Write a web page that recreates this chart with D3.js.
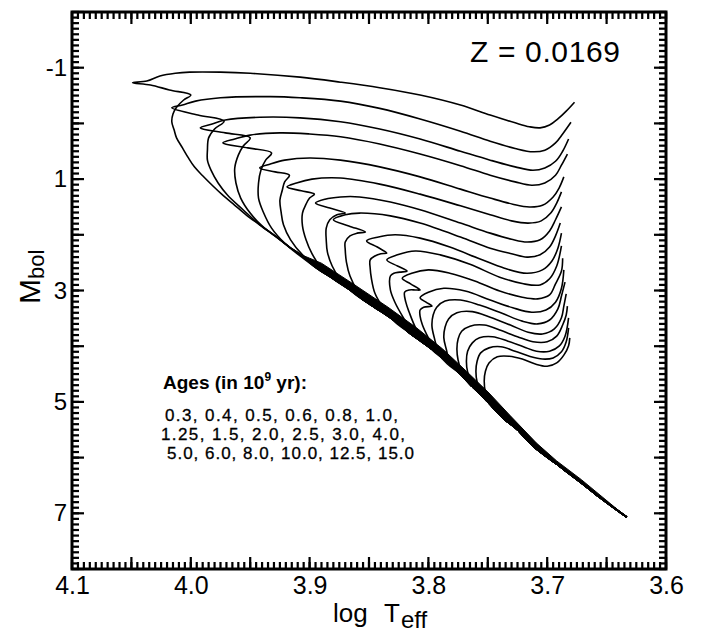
<!DOCTYPE html>
<html><head><meta charset="utf-8">
<script src="https://cdn.jsdelivr.net/npm/d3@7"></script>
<style>body{margin:0;background:#fff} svg{display:block}</style>
</head><body>
<svg id="c" width="701" height="635" xmlns="http://www.w3.org/2000/svg"></svg>
<script>
// ---------- data ----------
const xTickValues = [4.1, 4.0, 3.9, 3.8, 3.7, 3.6];
const xTickLabels = ["4.1", "4.0", "3.9", "3.8", "3.7", "3.6"];
const yTickValues = [-1, 1, 3, 5, 7];
const yTickLabels = ["-1", "1", "3", "5", "7"];
const ages = [0.3, 0.4, 0.5, 0.6, 0.8, 1.0, 1.25, 1.5, 2.0, 2.5, 3.0, 4.0, 5.0, 6.0, 8.0, 10.0, 12.5, 15.0];
const metallicityLabel = "Z = 0.0169";

// lower main sequence shared by all isochrones [log Teff, Mbol] (blue edge of the bundle)
const zams = [[3.633,7.07],[3.656,6.71],[3.672,6.44],[3.693,6.10],[3.712,5.79],[3.725,5.50],[3.736,5.31],[3.746,5.09],[3.754,4.91],[3.765,4.68],[3.773,4.50],[3.783,4.30],[3.793,4.12],[3.805,3.93],[3.816,3.76],[3.826,3.58],[3.838,3.40],[3.852,3.21],[3.866,2.99],[3.880,2.79],[3.894,2.60],[3.908,2.35],[3.917,2.22],[3.929,2.02],[3.942,1.82],[3.953,1.65],[3.963,1.47],[3.974,1.27],[3.982,1.11],[3.990,0.94],[3.997,0.78],[4.002,0.62],[4.007,0.44],[4.012,0.26],[4.014,0.12],[4.016,-0.03]];
// red edge of the overlapping main-sequence bundle
const msRedEdge = [[3.633,7.07],[3.671,6.40],[3.692,6.06],[3.709,5.74],[3.731,5.25],[3.749,4.84],[3.768,4.45],[3.788,4.05],[3.810,3.67],[3.834,3.30],[3.862,2.90],[3.890,2.51],[3.900,2.42]];

// upper parts of each isochrone (after leaving the lower main sequence)
const iso0_3 = [[4.015,-0.17],[4.012,-0.29],[4.006,-0.42],[4.000,-0.51],[4.018,-0.60],[4.034,-0.69],[4.049,-0.73],[4.037,-0.76],[4.026,-0.85],[4.013,-0.90],[4.001,-0.92],[3.975,-0.92],[3.950,-0.90],[3.908,-0.83],[3.874,-0.74],[3.841,-0.64],[3.807,-0.51],[3.773,-0.33],[3.748,-0.15],[3.727,-0.01],[3.715,0.06],[3.706,0.08],[3.698,0.03],[3.691,-0.08],[3.684,-0.22],[3.677,-0.38]];
const iso0_4 = [[3.956,1.55],[3.969,1.29],[3.977,1.07],[3.983,0.84],[3.986,0.66],[3.986,0.48],[3.985,0.26],[3.980,0.10],[3.972,-0.04],[3.994,-0.15],[4.016,-0.28],[4.007,-0.33],[3.996,-0.40],[3.975,-0.46],[3.933,-0.48],[3.908,-0.46],[3.874,-0.40],[3.841,-0.27],[3.807,-0.08],[3.773,0.14],[3.748,0.32],[3.727,0.45],[3.712,0.51],[3.702,0.48],[3.693,0.35],[3.687,0.19],[3.680,-0.02]];
const iso0_5 = [[3.925,2.09],[3.940,1.84],[3.950,1.61],[3.958,1.34],[3.962,1.07],[3.963,0.80],[3.960,0.57],[3.956,0.41],[3.950,0.26],[3.971,0.17],[3.992,0.08],[3.982,0.01],[3.971,-0.06],[3.942,-0.11],[3.908,-0.10],[3.874,-0.03],[3.841,0.10],[3.807,0.28],[3.773,0.50],[3.748,0.66],[3.727,0.78],[3.712,0.84],[3.702,0.80],[3.693,0.68],[3.687,0.50],[3.682,0.28]];
const iso0_6 = [[3.908,2.38],[3.921,2.15],[3.932,1.88],[3.939,1.59],[3.943,1.34],[3.943,1.07],[3.941,0.84],[3.937,0.66],[3.932,0.53],[3.952,0.44],[3.973,0.35],[3.963,0.28],[3.950,0.21],[3.925,0.17],[3.900,0.19],[3.874,0.24],[3.841,0.37],[3.807,0.55],[3.773,0.76],[3.748,0.93],[3.727,1.05],[3.713,1.11],[3.702,1.07],[3.693,0.93],[3.688,0.75],[3.683,0.55]];
const iso0_8 = [[3.893,2.60],[3.906,2.36],[3.916,2.09],[3.922,1.82],[3.924,1.59],[3.925,1.38],[3.923,1.20],[3.921,1.05],[3.917,0.93],[3.929,0.87],[3.942,0.80],[3.933,0.73],[3.921,0.66],[3.900,0.62],[3.874,0.66],[3.841,0.78],[3.807,0.96],[3.773,1.18],[3.748,1.34],[3.729,1.45],[3.715,1.50],[3.704,1.47],[3.695,1.32],[3.690,1.16],[3.686,0.96]];
const iso1_0 = [[3.879,2.81],[3.890,2.60],[3.898,2.34],[3.903,2.09],[3.906,1.84],[3.906,1.61],[3.903,1.45],[3.900,1.34],[3.896,1.27],[3.907,1.21],[3.919,1.14],[3.911,1.07],[3.898,1.00],[3.874,0.98],[3.841,1.09],[3.807,1.27],[3.773,1.48],[3.748,1.64],[3.730,1.75],[3.716,1.79],[3.705,1.75],[3.697,1.61],[3.692,1.43],[3.688,1.23]];
const iso1_25 = [[3.864,3.03],[3.874,2.81],[3.881,2.56],[3.885,2.31],[3.886,2.09],[3.886,1.88],[3.883,1.73],[3.877,1.64],[3.870,1.61],[3.883,1.52],[3.895,1.43],[3.887,1.36],[3.874,1.32],[3.858,1.32],[3.832,1.41],[3.807,1.55],[3.773,1.79],[3.748,1.97],[3.730,2.08],[3.717,2.13],[3.706,2.09],[3.698,1.93],[3.693,1.73],[3.688,1.50]];
const iso1_5 = [[3.851,3.22],[3.860,2.99],[3.866,2.74],[3.869,2.49],[3.870,2.27],[3.870,2.13],[3.866,2.02],[3.860,1.97],[3.853,1.95],[3.867,1.84],[3.880,1.73],[3.870,1.64],[3.858,1.61],[3.832,1.66],[3.807,1.79],[3.773,2.04],[3.748,2.24],[3.730,2.34],[3.717,2.40],[3.706,2.36],[3.698,2.22],[3.693,2.02],[3.689,1.79]];
const iso2_0 = [[3.828,3.57],[3.838,3.31],[3.845,3.05],[3.848,2.78],[3.849,2.60],[3.849,2.45],[3.845,2.38],[3.840,2.34],[3.835,2.33],[3.843,2.22],[3.852,2.11],[3.842,2.04],[3.828,2.00],[3.807,2.06],[3.782,2.22],[3.757,2.43],[3.736,2.60],[3.717,2.69],[3.704,2.63],[3.696,2.47],[3.691,2.24],[3.688,1.97]];
const iso2_5 = [[3.803,3.94],[3.813,3.75],[3.821,3.49],[3.828,3.22],[3.832,2.99],[3.832,2.74],[3.829,2.69],[3.824,2.67],[3.818,2.65],[3.826,2.56],[3.835,2.45],[3.826,2.36],[3.811,2.29],[3.790,2.36],[3.765,2.53],[3.740,2.76],[3.720,2.88],[3.706,2.90],[3.698,2.79],[3.692,2.56],[3.688,2.20]];
const iso3_0 = [[3.794,4.12],[3.804,3.91],[3.811,3.66],[3.816,3.40],[3.819,3.21],[3.820,3.03],[3.816,2.99],[3.811,2.99],[3.807,2.99],[3.815,2.88],[3.822,2.78],[3.814,2.69],[3.800,2.63],[3.782,2.69],[3.761,2.83],[3.740,3.01],[3.721,3.12],[3.708,3.15],[3.698,3.08],[3.693,2.88],[3.688,2.65],[3.687,2.42]];
const iso4_0 = [[3.784,4.32],[3.793,4.10],[3.800,3.85],[3.805,3.62],[3.807,3.46],[3.807,3.35],[3.804,3.30],[3.797,3.28],[3.802,3.21],[3.807,3.13],[3.800,3.03],[3.787,2.96],[3.769,3.01],[3.748,3.17],[3.729,3.31],[3.713,3.39],[3.701,3.35],[3.693,3.21],[3.688,2.96],[3.686,2.63]];
const iso5_0 = [[3.792,4.07],[3.795,3.85],[3.797,3.64],[3.796,3.44],[3.793,3.30],[3.786,3.19],[3.773,3.17],[3.757,3.26],[3.738,3.41],[3.721,3.55],[3.708,3.60],[3.698,3.53],[3.691,3.33],[3.688,3.10],[3.685,2.85]];
const iso6_0 = [[3.782,4.27],[3.785,4.05],[3.787,3.85],[3.786,3.66],[3.783,3.51],[3.776,3.40],[3.763,3.38],[3.748,3.48],[3.731,3.62],[3.716,3.75],[3.704,3.78],[3.694,3.69],[3.688,3.49],[3.686,3.28],[3.684,3.06]];
const iso8_0 = [[3.772,4.46],[3.775,4.25],[3.776,4.05],[3.775,3.87],[3.772,3.73],[3.765,3.64],[3.753,3.62],[3.740,3.71],[3.725,3.83],[3.712,3.92],[3.700,3.92],[3.692,3.82],[3.687,3.62],[3.684,3.44],[3.683,3.28]];
const iso10_0 = [[3.763,4.68],[3.767,4.46],[3.768,4.27],[3.767,4.09],[3.763,3.94],[3.757,3.85],[3.746,3.83],[3.733,3.91],[3.720,4.01],[3.709,4.09],[3.698,4.09],[3.690,4.00],[3.685,3.82],[3.682,3.49]];
const iso12_5 = [[3.755,4.86],[3.759,4.64],[3.760,4.45],[3.759,4.27],[3.756,4.12],[3.749,4.03],[3.739,4.01],[3.727,4.09],[3.715,4.18],[3.704,4.23],[3.695,4.21],[3.688,4.10],[3.684,3.92],[3.682,3.67]];
const iso15_0 = [[3.747,5.04],[3.752,4.82],[3.753,4.62],[3.752,4.45],[3.749,4.30],[3.742,4.19],[3.732,4.18],[3.721,4.23],[3.710,4.32],[3.700,4.36],[3.692,4.30],[3.686,4.16],[3.682,3.99],[3.681,3.85]];

const isochrones = [iso0_3, iso0_4, iso0_5, iso0_6, iso0_8, iso1_0, iso1_25, iso1_5, iso2_0, iso2_5, iso3_0, iso4_0, iso5_0, iso6_0, iso8_0, iso10_0, iso12_5, iso15_0];

// ---------- drawing ----------
const svg = d3.select("#c");
const FONT = "'Liberation Sans', Arial, Helvetica, sans-serif";
const L = 72, R = 666, TOP = 12, BOT = 569;
const x = d3.scaleLinear().domain([4.1, 3.6]).range([L, R]);
const y = d3.scaleLinear().domain([-2, 8]).range([TOP, BOT]);

svg.append("rect").attr("width", 701).attr("height", 635).attr("fill", "#fff");

// tick labels via axes
const gx = svg.append("g").attr("transform", `translate(0,${BOT})`)
  .call(d3.axisBottom(x).tickValues(xTickValues).tickSize(0).tickPadding(7)
    .tickFormat((d, i) => xTickLabels[i]));
gx.select(".domain").remove();
gx.selectAll("text").attr("font-family", FONT).attr("font-size", 25).attr("fill", "#000");

const gy = svg.append("g").attr("transform", `translate(${L},0)`)
  .call(d3.axisLeft(y).tickValues(yTickValues).tickSize(0).tickPadding(5)
    .tickFormat((d, i) => yTickLabels[i]));
gy.select(".domain").remove();
gy.selectAll("text").attr("font-family", FONT).attr("font-size", 24).attr("fill", "#000");

// main-sequence bundle (overlapping lower parts of all isochrones)
const lin = d3.line().x(d => x(d[0])).y(d => y(d[1]));
const bandPts = zams.filter(p => p[1] >= 2.35).concat(msRedEdge.slice().reverse());
svg.append("path").attr("d", lin(bandPts) + "Z").attr("fill", "#000").attr("stroke", "#000").attr("stroke-width", 1);

// isochrones
const line = d3.line().x(d => x(d[0])).y(d => y(d[1])).curve(d3.curveCatmullRom.alpha(0.5));
const plot = svg.append("g");
isochrones.forEach(own => {
  const m0 = own[0][1];
  const pts = zams.filter(p => p[1] > m0 + 0.12).concat(own);
  plot.append("path").attr("d", line(pts)).attr("fill", "none")
    .attr("stroke", "#000").attr("stroke-width", 1.6).attr("stroke-linejoin", "round");
});

// frame
svg.append("rect").attr("x", L).attr("y", TOP).attr("width", R - L).attr("height", BOT - TOP)
  .attr("fill", "none").attr("stroke", "#000").attr("stroke-width", 3);

// tick marks (inward on all four sides) as small filled bars
const xMinor = d3.range(0, 101).map(i => 3.6 + i * 0.005);
const xMid = d3.range(0, 11).map(i => 3.6 + i * 0.05);
const yMinor = d3.range(0, 101).map(i => -2 + i * 0.1);
const yMid = d3.range(-2, 9);
const tickG = svg.append("g").attr("fill", "#000");
const TW = 2.2;
function xBars(vals, len) {
  tickG.selectAll(null).data(vals).join("rect")
    .attr("x", d => x(d) - TW / 2).attr("y", BOT - len).attr("width", TW).attr("height", len);
  tickG.selectAll(null).data(vals).join("rect")
    .attr("x", d => x(d) - TW / 2).attr("y", TOP).attr("width", TW).attr("height", len);
}
function yBars(vals, len) {
  tickG.selectAll(null).data(vals).join("rect")
    .attr("x", L).attr("y", d => y(d) - TW / 2).attr("width", len).attr("height", TW);
  tickG.selectAll(null).data(vals).join("rect")
    .attr("x", R - len).attr("y", d => y(d) - TW / 2).attr("width", len).attr("height", TW);
}
xBars(xMinor, 7); xBars(xMid, 12);
yBars(yMinor, 7); yBars(yMid, 12);

// Z label
svg.append("text").attr("x", 470).attr("y", 62).attr("font-family", FONT)
  .attr("font-size", 30).attr("fill", "#000").attr("textLength", 150)
  .attr("lengthAdjust", "spacing").text(metallicityLabel);

// Ages text
const fmt = v => (Number.isInteger(v * 10) ? v.toFixed(1) : String(v));
const hdr = svg.append("text").attr("x", 163).attr("y", 389).attr("font-family", FONT)
  .attr("font-size", 19).attr("font-weight", "bold").attr("fill", "#000");
hdr.append("tspan").text("Ages (in 10");
hdr.append("tspan").attr("dy", -8).attr("font-size", 12).text("9");
hdr.append("tspan").attr("dy", 8).text(" yr):");
const ageLines = [ages.slice(0, 6), ages.slice(6, 12), ages.slice(12)];
const lineX = [165, 161, 167], lineY = [421, 440, 459], lineW = [233, 244, 247];
ageLines.forEach((grp, i) => {
  const s = grp.map(fmt).join(", ") + (i < 2 ? "," : "");
  svg.append("text").attr("x", lineX[i]).attr("y", lineY[i]).attr("font-family", FONT)
    .attr("font-size", 17).attr("fill", "#000").attr("stroke", "#000").attr("stroke-width", 0.3)
    .attr("textLength", lineW[i]).attr("lengthAdjust", "spacing").text(s);
});

// axis titles
const yt = svg.append("text").attr("transform", "translate(40,304) rotate(-90)")
  .attr("font-family", FONT).attr("font-size", 30).attr("fill", "#000");
yt.append("tspan").text("M");
yt.append("tspan").attr("dy", 4).attr("font-size", 22).text("bol");

const xt = svg.append("text").attr("x", 333).attr("y", 622).attr("font-family", FONT)
  .attr("font-size", 26).attr("fill", "#000");
xt.append("tspan").text("log");
xt.append("tspan").attr("x", 384).text("T");
xt.append("tspan").attr("x", 401).attr("dy", 6).attr("font-size", 24).text("eff");
</script>
</body></html>
